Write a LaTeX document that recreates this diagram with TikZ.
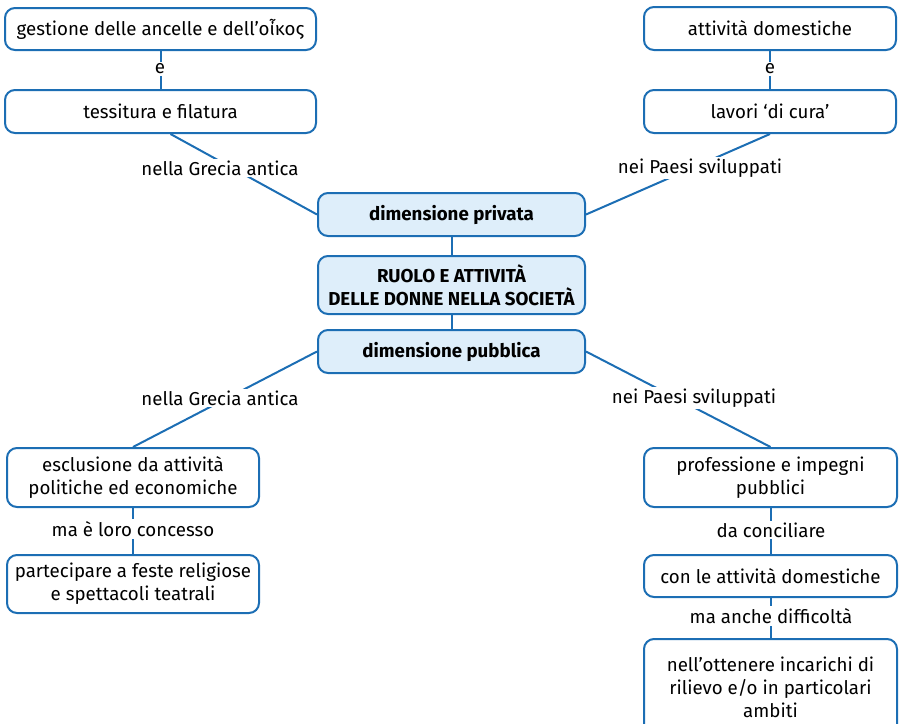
\documentclass[tikz,border=0pt]{standalone}
\usepackage{fontspec}
\setmainfont{Fira Sans}
\definecolor{bline}{RGB}{28,110,180}
\definecolor{bfill}{RGB}{222,238,250}
\begin{document}
\begin{tikzpicture}[x=1pt,y=-1pt,
  box/.style={draw=bline,line width=2pt,rounded corners=10pt,fill=white,align=center,
    inner sep=2pt,font=\fontsize{18.7}{23}\selectfont},
  mainbox/.style={box,fill=bfill,font=\fontsize{18.7}{22.5}\selectfont\bfseries},
  conn/.style={draw=bline,line width=2pt},
  lab/.style={fill=white,inner sep=2pt,font=\fontsize{18.7}{22}\selectfont}]
\useasboundingbox (0,0) rectangle (905,723);
% central column
\node[mainbox,minimum width=267,minimum height=43] (priv) at (451.5,214.5) {dimensione privata};
\node[mainbox,minimum width=267,minimum height=58] (main) at (451.5,285) {RUOLO E ATTIVITÀ\\DELLE DONNE NELLA SOCIETÀ};
\node[mainbox,minimum width=267,minimum height=43] (pubb) at (451.5,351.5) {dimensione pubblica};
% top left
\node[box,minimum width=311,minimum height=42] (a1) at (160.5,29) {gestione delle ancelle e dell’οἶκος};
\node[box,minimum width=311,minimum height=43] (a2) at (160.5,111.5) {tessitura e filatura};
% top right
\node[box,minimum width=252,minimum height=43] (b1) at (770,28.5) {attività domestiche};
\node[box,minimum width=252,minimum height=43] (b2) at (770,111.5) {lavori ‘di cura’};
% bottom left
\node[box,minimum width=252,minimum height=59] (c1) at (133,477.5) {esclusione da attività\\politiche ed economiche};
\node[box,minimum width=252,minimum height=58] (c2) at (133,584) {partecipare a feste religiose\\e spettacoli teatrali};
% bottom right
\node[box,minimum width=253,minimum height=59] (d1) at (770.5,477.5) {professione e impegni\\pubblici};
\node[box,minimum width=253,minimum height=42] (d2) at (770.5,576) {con le attività domestiche};
\node[box,minimum width=253,minimum height=96,anchor=north] (d3) at (770.5,638) {nell’ottenere incarichi di\\rilievo e/o in particolari\\ambiti};
% connectors
\draw[conn] (priv) -- (main);
\draw[conn] (main) -- (pubb);
\draw[conn] (a1) -- (a2);
\draw[conn] (b1) -- (b2);
\draw[conn] ([xshift=10pt]a2.south) -- (priv.west);
\draw[conn] (b2.south) -- (priv.east);
\draw[conn] (pubb.west) -- (c1.north);
\draw[conn] (pubb.east) -- (d1.north);
\draw[conn] (c1) -- (c2);
\draw[conn] (d1) -- (d2);
\draw[conn] (d2) -- (d3);
% labels
\node[lab] (l1) at (160,69) {e};
\node[lab] (l2) at (770,69) {e};
\node[lab] (l3) at (220,168) {nella Grecia antica};
\node[lab] (l4) at (700,168) {nei Paesi sviluppati};
\node[lab] (l5) at (220,398) {nella Grecia antica};
\node[lab] (l6) at (694,398) {nei Paesi sviluppati};
\node[lab] (l7) at (133,529) {ma è loro concesso};
\node[lab] (l8) at (771,530) {da conciliare};
\node[lab] (l9) at (771,616) {ma anche difficoltà};
\end{tikzpicture}
\end{document}
